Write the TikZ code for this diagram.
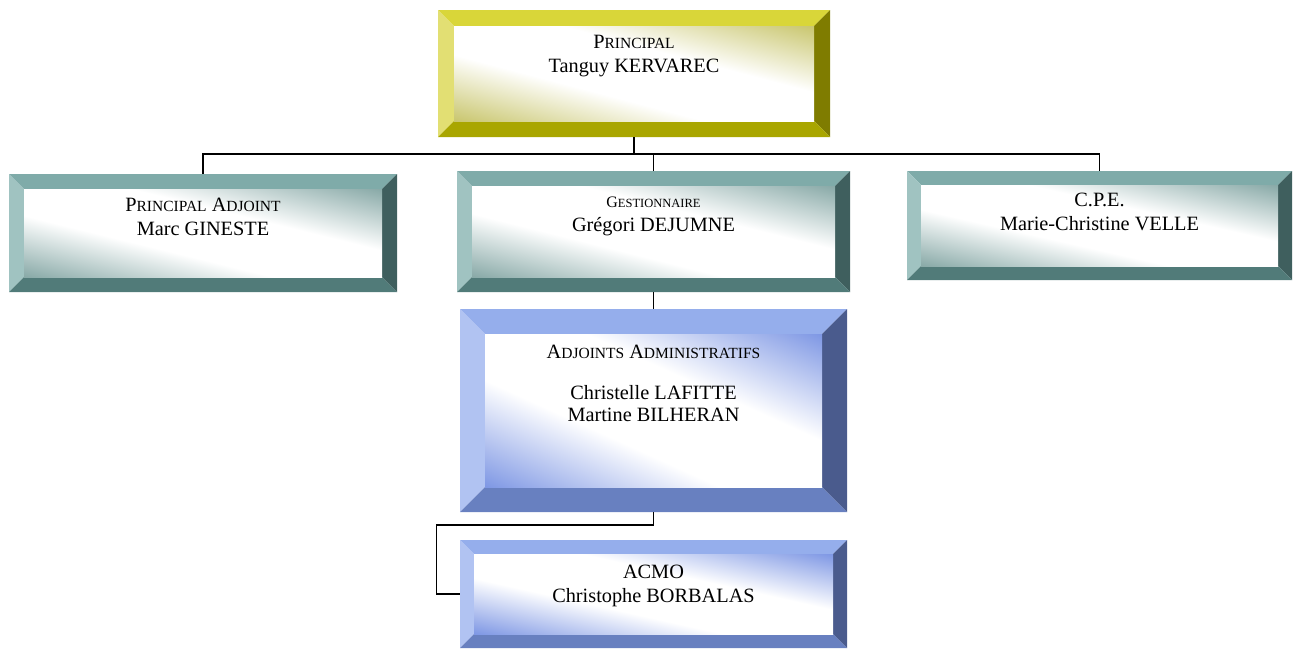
\documentclass[tikz,border=0pt]{standalone}
\usepackage{fontspec}
\setmainfont{Liberation Serif}
\usetikzlibrary{positioning,calc}

%Define colours of the three box families
\definecolor{yelTop}{HTML}{D9D639}
\definecolor{yelLeft}{HTML}{E2DF73}
\definecolor{yelRight}{HTML}{7F7C00}
\definecolor{yelBot}{HTML}{A9A600}
\definecolor{yelFace}{HTML}{C9C66E}
\definecolor{greyTop}{HTML}{7FABA9}
\definecolor{greyLeft}{HTML}{A0C3C1}
\definecolor{greyRight}{HTML}{3F5F5E}
\definecolor{greyBot}{HTML}{517B79}
\definecolor{greyFace}{HTML}{88A9A7}
\definecolor{blueTop}{HTML}{95AEEC}
\definecolor{blueLeft}{HTML}{B1C3F2}
\definecolor{blueRight}{HTML}{4A5B8D}
\definecolor{blueBot}{HTML}{6880C0}
\definecolor{blueFace}{HTML}{7E97E4}

%Define diagonal face shading: white band from top left to bottom right
\colorlet{bevface}{white}
\pgfdeclarefunctionalshading[bevface]{bevelshade}{\pgfpoint{0bp}{0bp}}{\pgfpoint{100bp}{100bp}}{\pgfshadecolortorgb{bevface}{\bevrgb}}{
  add 100 sub abs 50 div 0.3 sub 0.7 div
  dup 0 lt {pop 0} if dup 1 gt {pop 1} if
  dup 1 \bevrgbred sub mul 1 exch sub
  exch dup 1 \bevrgbgreen sub mul 1 exch sub
  exch 1 \bevrgbblue sub mul 1 exch sub
}

\newcommand{\smc}[1]{{\fontsize{15.5}{24}\selectfont #1}}
\newcommand{\boxtext}[2]{\parbox[c][#1][t]{360pt}{\centering #2}}

\tikzset{
    %Define style for connectors
    link/.style={line width=1.9pt, black},
    %Define colour set and bevel size of boxes
    boxcol/.store in=\boxcol,
    bevelsize/.store in=\bevelsize,
    boxcol=yel, bevelsize=15pt,
    %Define style for bevelled boxes
    orgbox/.style={
           rectangle,
           inner sep=0pt,
           outer sep=0pt,
           font=\fontsize{20.3}{24}\selectfont,
           path picture={
               \coordinate (bnw) at (path picture bounding box.north west);
               \coordinate (bse) at (path picture bounding box.south east);
               \coordinate (inw) at ($(bnw)+(\bevelsize,-\bevelsize)$);
               \coordinate (ise) at ($(bse)+(-\bevelsize,\bevelsize)$);
               \fill[fill=\boxcol Top] (bnw) -- (bnw -| bse) -- (inw -| ise) -- (inw) -- cycle;
               \fill[fill=\boxcol Left] (bnw) -- (inw) -- (inw |- ise) -- (bnw |- bse) -- cycle;
               \fill[fill=\boxcol Right] (bnw -| bse) -- (bse) -- (ise) -- (inw -| ise) -- cycle;
               \fill[fill=\boxcol Bot] (bnw |- bse) -- (bse) -- (ise) -- (inw |- ise) -- cycle;
               \colorlet{bevface}{\boxcol Face}
               \shade[shading=bevelshade] (inw) rectangle (ise);
           },}
}

\begin{document}
\begin{tikzpicture}[x=1pt, y=1pt]
 \useasboundingbox (0,0) rectangle (1294,-649);
 %nodes
 \node[orgbox, boxcol=yel, bevelsize=16pt, minimum width=392pt, minimum height=127pt] (principal) at (634,-73.5)
   {\boxtext{77pt}{P\smc{RINCIPAL}\\Tanguy KERVAREC}};
 \node[orgbox, boxcol=grey, bevelsize=15pt, minimum width=393pt, minimum height=121pt, below=34pt of principal, xshift=19.5pt] (gest)
   {\boxtext{69pt}{{\fontsize{16}{24}\selectfont G{\fontsize{12.5}{24}\selectfont ESTIONNAIRE}}\\Grégori DEJUMNE}};
 \node[orgbox, boxcol=grey, bevelsize=15pt, minimum width=388pt, minimum height=118pt, left=60pt of gest.south west, anchor=south east] (adjoint)
   {\boxtext{70pt}{P\smc{RINCIPAL} A\smc{DJOINT}\\Marc GINESTE}};
 \node[orgbox, boxcol=grey, bevelsize=14pt, minimum width=385pt, minimum height=109pt, right=57pt of gest.north east, anchor=north west] (cpe)
   {\boxtext{65pt}{C.P.E.\\Marie-Christine VELLE}};
 \node[orgbox, boxcol=blue, bevelsize=25pt, minimum width=387pt, minimum height=203pt, below=17pt of gest] (adm)
   {\boxtext{131pt}{A\smc{DJOINTS} A\smc{DMINISTRATIFS}\\[17pt]Christelle LAFITTE\\[-2pt]Martine BILHERAN}};
 \node[orgbox, boxcol=blue, bevelsize=14pt, minimum width=387pt, minimum height=108pt, below=28pt of adm] (acmo)
   {\boxtext{58pt}{ACMO\\Christophe BORBALAS}};

 %connectors
 \coordinate (hub) at ($(principal.south)+(0,-17pt)$);
 \coordinate (acmoturn) at ($(adm.south)+(-217pt,-13pt)$);
 \draw[link] (principal.south) -- (hub);
 \draw[link] (adjoint.north) |- (hub) -| (cpe.north);
 \draw[link] (gest.north) |- (hub);
 \draw[link] (gest.south) -- (adm.north);
 \draw[link] (adm.south) |- (acmoturn) |- (acmo.west);

\end{tikzpicture}
\end{document}
